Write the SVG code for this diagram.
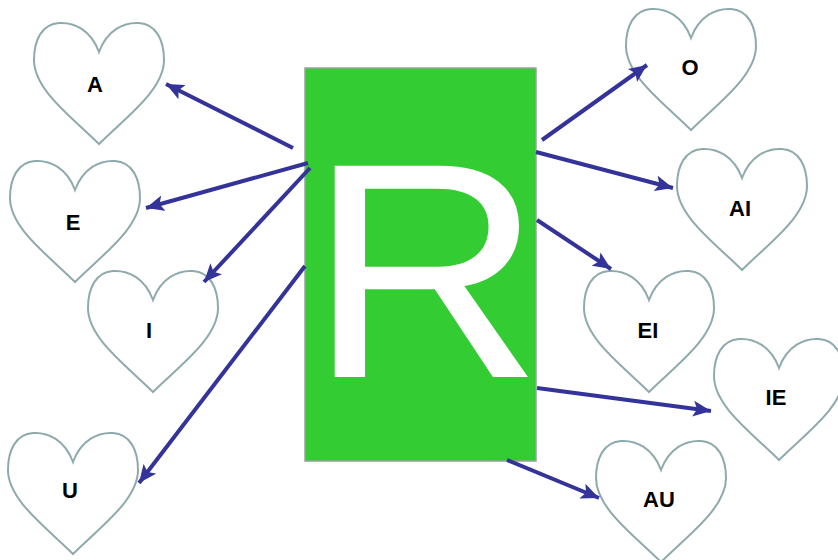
<svg xmlns="http://www.w3.org/2000/svg" xmlns:xlink="http://www.w3.org/1999/xlink" width="838" height="560" viewBox="0 0 838 560">
<style>
.heart{fill:#fff;stroke:#8eaaac;stroke-width:2}
.lbl{font-family:"Liberation Sans",Arial,sans-serif;font-weight:bold;font-size:22px;fill:#000;text-anchor:middle}
.arr{stroke:#333399;stroke-width:4;fill:none;marker-end:url(#ah)}
</style>
<defs>
<path id="hp" d="M65,30 C57,8 40,0 25,1 C8,2 0,18 0,38 C0,68 38,95 65,122 C92,95 130,68 130,38 C130,18 122,2 105,1 C90,0 73,8 65,30 Z"/>
<marker id="ah" markerUnits="userSpaceOnUse" markerWidth="20" markerHeight="16" refX="18" refY="8" orient="auto">
<path d="M0,0 L18,8 L0,16 L4,8 Z" fill="#333399"/>
</marker>
</defs>
<rect width="838" height="560" fill="#fff"/>
<g id="nodeR">
<rect x="305" y="68" width="231" height="393" fill="#33cc33" stroke="#9aa0a0" stroke-width="1.5"/>
<text transform="translate(308,377) scale(1.06,1)" x="0" y="0" font-family="Liberation Sans, Arial, sans-serif" font-size="307" fill="#fff">R</text>
</g>
<g id="nodeA"><use xlink:href="#hp" class="heart" transform="translate(34,22)"/><text class="lbl" x="95" y="92">A</text></g>
<g id="nodeE"><use xlink:href="#hp" class="heart" transform="translate(10,160)"/><text class="lbl" x="73" y="230">E</text></g>
<g id="nodeI"><use xlink:href="#hp" class="heart" transform="translate(88,270)"/><text class="lbl" x="149" y="338">I</text></g>
<g id="nodeU"><use xlink:href="#hp" class="heart" transform="translate(8,432)"/><text class="lbl" x="70" y="498">U</text></g>
<g id="nodeO"><use xlink:href="#hp" class="heart" transform="translate(626,8)"/><text class="lbl" x="690" y="75">O</text></g>
<g id="nodeAI"><use xlink:href="#hp" class="heart" transform="translate(677,148)"/><text class="lbl" x="740" y="216">AI</text></g>
<g id="nodeEI"><use xlink:href="#hp" class="heart" transform="translate(584,270)"/><text class="lbl" x="648" y="338">EI</text></g>
<g id="nodeIE"><use xlink:href="#hp" class="heart" transform="translate(714,338)"/><text class="lbl" x="776" y="405">IE</text></g>
<g id="nodeAU"><use xlink:href="#hp" class="heart" transform="translate(596,440)"/><text class="lbl" x="659" y="507">AU</text></g>
<g id="connectors">
<line class="arr" x1="293" y1="148" x2="166" y2="84"/>
<line class="arr" x1="308" y1="163" x2="146" y2="208"/>
<line class="arr" x1="310" y1="168" x2="204" y2="282"/>
<line class="arr" x1="305" y1="266" x2="139" y2="483"/>
<line class="arr" x1="542" y1="140" x2="647" y2="65"/>
<line class="arr" x1="536" y1="152" x2="673" y2="188"/>
<line class="arr" x1="537" y1="220" x2="611" y2="269"/>
<line class="arr" x1="537" y1="388" x2="711" y2="411"/>
<line class="arr" x1="507" y1="460" x2="599" y2="498"/>
</g>
</svg>
